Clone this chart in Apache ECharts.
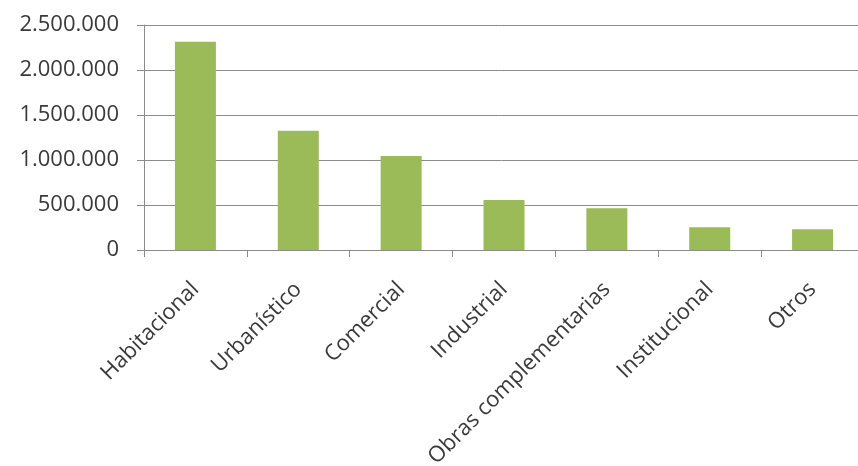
<!DOCTYPE html>
<html>
<head>
<meta charset="utf-8">
<script src="https://cdn.jsdelivr.net/npm/echarts@6/dist/echarts.min.js"></script>
<style>html,body{margin:0;padding:0;background:#fff;}#c{width:858px;height:466px;}</style>
</head>
<body>
<div id="c"></div>
<script>
const categories = ["Habitacional", "Urbanístico", "Comercial", "Industrial", "Obras complementarias", "Institucional", "Otros"];
const values = [2315000, 1326000, 1044000, 556000, 463000, 252000, 230000];
const yMin = 0, yMax = 2500000, yInterval = 500000;

function fmt(v) { return String(v).replace(/\B(?=(\d{3})+(?!\d))/g, '.'); }

const chart = echarts.init(document.getElementById('c'), null, {renderer: 'canvas'});
const font = 'Open Sans';
chart.setOption({
  animation: false,
  grid: {left: 144, top: 25, width: 720, height: 225, outerBoundsMode: 'none', containLabel: false},
  xAxis: {
    type: 'category',
    data: categories,
    axisLine: {lineStyle: {color: '#8c8c8c', width: 1}},
    axisTick: {show: true, length: 7, lineStyle: {color: '#8c8c8c'}},
    axisLabel: {rotate: 45, margin: 36, fontSize: 22, fontFamily: font, color: '#3a3a3a', interval: 0}
  },
  yAxis: {
    type: 'value',
    min: yMin, max: yMax, interval: yInterval,
    axisLine: {show: true, lineStyle: {color: '#8c8c8c', width: 1}},
    axisTick: {show: true, length: 7, lineStyle: {color: '#8c8c8c'}},
    splitLine: {show: true, lineStyle: {color: '#8c8c8c', width: 1}},
    axisLabel: {margin: 25, fontSize: 22, fontFamily: font, color: '#3a3a3a', formatter: fmt}
  },
  series: [{
    type: 'bar',
    data: values,
    barWidth: 41,
    itemStyle: {color: '#9bbb59'}
  }]
});
</script>
</body>
</html>
